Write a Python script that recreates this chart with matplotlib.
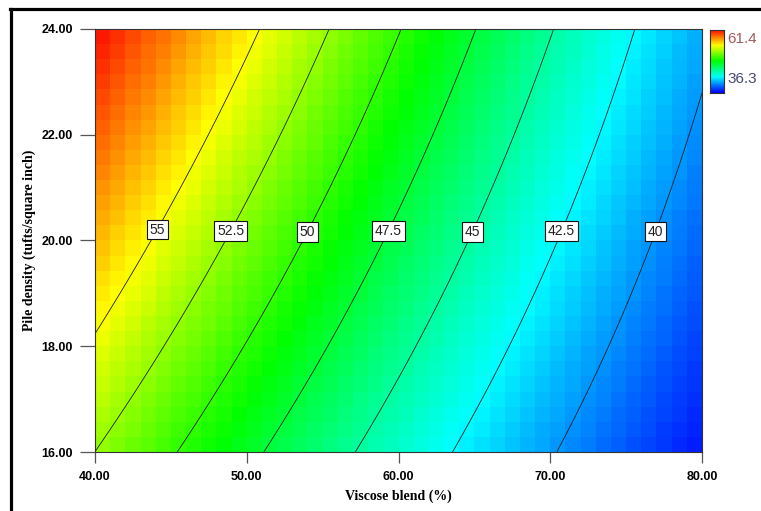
import numpy as np
import matplotlib
matplotlib.use('Agg')
import matplotlib.pyplot as plt
from matplotlib.colors import LinearSegmentedColormap
from matplotlib.lines import Line2D

# contour levels drawn on the map
levels = [40, 42.5, 45, 47.5, 50, 52.5, 55]
level_text = ['40', '42.5', '45', '47.5', '50', '52.5', '55']

# points: viscose blend (%), pile density, response
pt_x = [40.0, 43.14, 45.27, 50.74,
        40.53, 47.95, 50.19, 56.01,
        45.67, 52.90, 55.02, 60.30,
        51.14, 58.54, 60.19, 65.24,
        57.07, 63.92, 65.83, 69.92,
        63.33, 69.84, 71.72, 74.60,
        70.18, 76.18, 77.63, 80.0]
pt_y = [18.72, 19.63, 20.77, 24.0,
        16.0, 19.63, 20.77, 24.0,
        16.0, 19.63, 20.77, 24.0,
        16.0, 19.63, 20.77, 24.0,
        16.0, 19.63, 20.77, 24.0,
        16.0, 19.63, 20.77, 24.0,
        16.0, 19.63, 20.63, 21.9]
pt_z = [55, 55, 55, 55,
        52.5, 52.5, 52.5, 52.5,
        50, 50, 50, 50,
        47.5, 47.5, 47.5, 47.5,
        45, 45, 45, 45,
        42.5, 42.5, 42.5, 42.5,
        40, 40, 40, 40]

# where the labels sit
label_x = [77.4, 70.9, 64.9, 59.5, 54.0, 49.1, 44.4]
label_y = [20.12, 20.16, 20.16, 20.16, 20.16, 20.16, 20.16]

z_min, z_max = 36.3, 61.4

# quadratic response surface through the read points
def terms(x, y):
    a = (np.asarray(x) - 60) / 20
    b = (np.asarray(y) - 20) / 4
    return np.stack([np.ones_like(a), a, b, a * b, a * a, b * b], axis=-1)

coef, *_ = np.linalg.lstsq(terms(pt_x, pt_y), np.array(pt_z, float), rcond=None)

def surface(x, y):
    return terms(x, y) @ coef

cmap = LinearSegmentedColormap.from_list(
    'de', ['#0000ff', '#00ffff', '#00ff00', '#ffff00', '#ff0000'])

fig = plt.figure(figsize=(7.61, 5.11), dpi=100)
ax = fig.add_axes([95 / 761, 59 / 511, 607 / 761, 423 / 511])

# blocky colour cells
xe = np.linspace(40, 80, 41)
ye = np.linspace(16, 24, 29)
xc = (xe[:-1] + xe[1:]) / 2
yc = (ye[:-1] + ye[1:]) / 2
XC, YC = np.meshgrid(xc, yc)
ax.pcolormesh(xe, ye, surface(XC, YC), cmap=cmap, vmin=z_min, vmax=z_max,
              shading='flat')

# smooth contour lines
xf = np.linspace(40, 80, 300)
yf = np.linspace(16, 24, 300)
XF, YF = np.meshgrid(xf, yf)
cs = ax.contour(XF, YF, surface(XF, YF), levels=levels,
                colors='#1e1e1e', linewidths=0.6)
labels = ax.clabel(cs, levels, inline=False, fontsize=10,
                   fmt=dict(zip(levels, level_text)),
                   manual=list(zip(label_x, label_y)))
for t in labels:
    t.set_rotation(0)
    t.set_fontfamily('Liberation Sans')
    t.set_color('#222222')
    t.set_bbox(dict(boxstyle='square,pad=0.2', fc='white', ec='#111111', lw=0.8))

ax.set_xlim(40, 80)
ax.set_ylim(16, 24)
ax.set_xticks([40, 50, 60, 70, 80])
ax.set_yticks([16, 18, 20, 22, 24])
ax.xaxis.set_major_formatter('{x:.2f}')
ax.yaxis.set_major_formatter('{x:.2f}')
ax.tick_params(axis='x', length=8, width=0.9, color='#555555', pad=6)
ax.tick_params(axis='y', length=11, width=0.9, color='#555555', pad=5)
for lab in ax.get_xticklabels() + ax.get_yticklabels():
    lab.set_fontfamily('Liberation Sans')
    lab.set_fontweight('bold')
    lab.set_fontsize(9)
for s in ax.spines.values():
    s.set_color('#333333')
    s.set_linewidth(0.8)

ax.set_xlabel('Viscose blend (%)', fontfamily='Liberation Serif',
              fontweight='bold', fontsize=10)
ax.set_ylabel('Pile density (tufts/square inch)', fontfamily='Liberation Serif',
              fontweight='bold', fontsize=10)
ax.xaxis.set_label_coords(0.5, (452 - 490) / 423)
ax.yaxis.set_label_coords((36 - 95) / 607, 0.5)

# small colour key on the right
cax = fig.add_axes([710 / 761, 1 - 93 / 511, 14 / 761, 63 / 511])
cax.imshow(np.linspace(z_max, z_min, 100)[:, None], cmap=cmap, aspect='auto',
           vmin=z_min, vmax=z_max)
cax.set_xticks([])
cax.set_yticks([])
for s in cax.spines.values():
    s.set_color('#333333')
    s.set_linewidth(0.8)
fig.text(727 / 761, 1 - 39 / 511, f'{z_max}', fontfamily='Liberation Sans',
         fontsize=11, color='#a05a5a', va='center')
fig.text(727 / 761, 1 - 79 / 511, f'{z_min}', fontfamily='Liberation Sans',
         fontsize=11, color='#4a4a78', va='center')

# frame from the original screenshot
fig.add_artist(Line2D([10.5 / 761, 10.5 / 761], [0, 1 - 9 / 511],
                      color='black', lw=2.3, transform=fig.transFigure))
fig.add_artist(Line2D([9.5 / 761, 1], [1 - 9 / 511, 1 - 9 / 511],
                      color='black', lw=2.3, transform=fig.transFigure))

fig.savefig('out.png', dpi=100)
